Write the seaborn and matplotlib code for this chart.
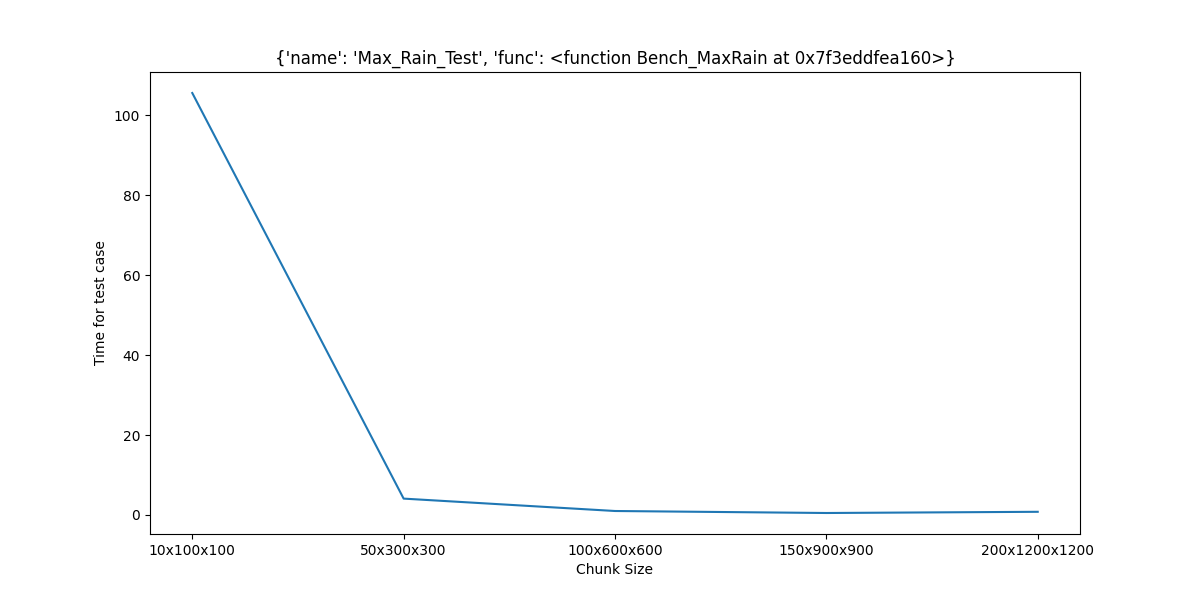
import seaborn as sns
import matplotlib.pyplot as plt
import pandas as pd

chunk_sizes = ["10x100x100", "50x300x300", "100x600x600", "150x900x900", "200x1200x1200"]
times = [105.6, 4.1, 1.0, 0.5, 0.8]

df = pd.DataFrame({"Chunk Size": chunk_sizes, "Time for test case": times})

plt.figure(figsize=(12, 6))
sns.lineplot(data=df, x="Chunk Size", y="Time for test case")
plt.title("{'name': 'Max_Rain_Test', 'func': <function Bench_MaxRain at 0x7f3eddfea160>}")
plt.savefig("out.png", dpi=100)
